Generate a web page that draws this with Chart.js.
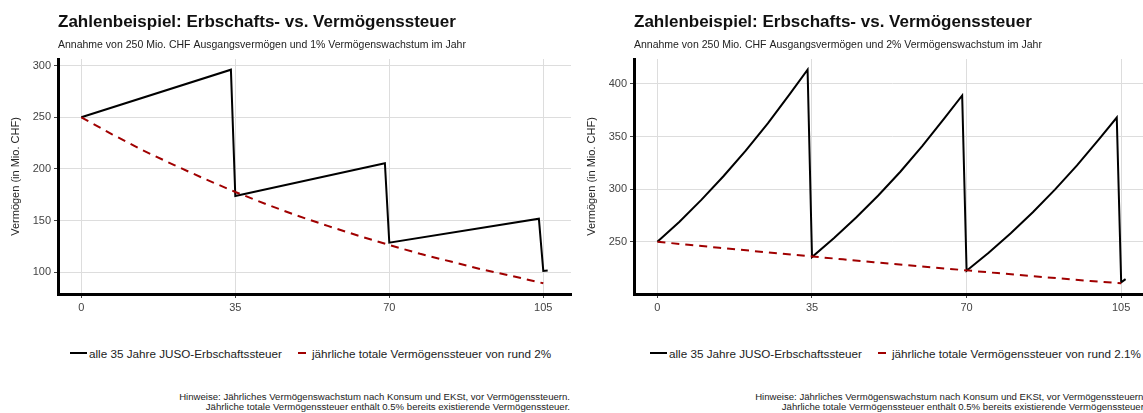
<!DOCTYPE html>
<html>
<head>
<meta charset="utf-8">
<script src="https://cdn.jsdelivr.net/npm/chart.js@4.4.1/dist/chart.umd.min.js"></script>
<style>
  body { margin: 0; width: 1143px; height: 413px; overflow: hidden; background: #fff;
         font-family: "Liberation Sans", Arial, sans-serif; }
  .panel { position: absolute; top: 0; width: 576px; height: 413px; }
  .legend { position: absolute; top: 346px; display: flex; align-items: center;
            font-size: 11.7px; color: #222; white-space: nowrap; }
  .key { position: relative; width: 17px; height: 14px; display: inline-block; }
  .key i { position: absolute; top: 6px; height: 2px; }
  .legend span.txt { margin-left: 2px; }
  .legend .gap { width: 11px; display: inline-block; }
  .note { position: absolute; right: 6px; top: 392px; font-size: 9.6px; line-height: 10px;
          color: #222; text-align: right; white-space: nowrap; }
</style>
</head>
<body>

<div class="panel" style="left:0">
  <canvas id="leftChart" width="576" height="320"></canvas>
  <div class="legend" id="leftLegend" style="left:70px"></div>
  <div class="note">Hinweise: Jährliches Vermögenswachstum nach Konsum und EKSt, vor Vermögenssteuern.<br>Jährliche totale Vermögenssteuer enthält 0.5% bereits existierende Vermögenssteuer.</div>
</div>

<div class="panel" style="left:576px">
  <canvas id="rightChart" width="576" height="320"></canvas>
  <div class="legend" id="rightLegend" style="left:74px"></div>
  <div class="note">Hinweise: Jährliches Vermögenswachstum nach Konsum und EKSt, vor Vermögenssteuern.<br>Jährliche totale Vermögenssteuer enthält 0.5% bereits existierende Vermögenssteuer.</div>
</div>

<script>
const xTicks = [0, 35, 70, 105];
const taxYears = [0, 7, 14, 21, 28, 35, 42, 49, 56, 63, 70, 77, 84, 91, 98, 105];

// 1% Wachstum
const leftYTicks = [100, 150, 200, 250, 300];
const leftJusoYears = [0, 34, 35, 69, 70, 104, 105, 106];
const leftJuso = [250, 296, 174, 205.5, 128.8, 152, 101.5, 102];
const leftTax = [250, 233.5, 218, 204, 190.5, 177.8, 166, 155, 145, 135.5, 126.5, 118, 110.5, 103, 96.5, 89.5];

// 2% Wachstum
const rightYTicks = [250, 300, 350, 400];
const rightJusoYears = [0, 5, 10, 15, 20, 25, 30, 34, 35, 40, 45, 50, 55, 60, 65, 69,
                        70, 75, 80, 85, 90, 95, 100, 104, 105, 106];
const rightJuso = [250, 269, 290, 312.5, 336.5, 362.5, 390.5, 413.5, 235.5, 253.5, 273, 294, 316.5, 341, 367.5, 389,
                   222.5, 239.5, 258, 278, 299.5, 322.5, 347.5, 368, 211.5, 214.5];
const rightTax = [250, 247.1, 244.3, 241.5, 238.7, 236, 233.3, 230.6, 228, 225.4, 222.8, 220.2, 217.7, 215.2, 212.7, 210.5];

const jusoLabel = "alle 35 Jahre JUSO-Erbschaftssteuer";
const title = "Zahlenbeispiel: Erbschafts- vs. Vermögenssteuer";

const FONT = "'Liberation Sans', Arial, sans-serif";
const RED = "#a00000";

function pts(xs, ys) {
  return xs.map((x, i) => ({ x: x, y: ys[i] }));
}

// ggplot-style 5% expansion of the data range
function expand(values) {
  const lo = Math.min(...values), hi = Math.max(...values), pad = (hi - lo) * 0.05;
  return [lo - pad, hi + pad];
}

function legend(id, taxLabel) {
  document.getElementById(id).innerHTML =
    '<span class="key"><i style="left:0;width:17px;background:#000"></i></span>' +
    '<span class="txt">' + jusoLabel + '</span><span class="gap"></span>' +
    '<span class="key"><i style="left:5px;width:8px;background:' + RED + '"></i></span>' +
    '<span class="txt">' + taxLabel + '</span>';
}

function drawPanel(id, p) {
  const [yMin, yMax] = expand(p.juso.concat(p.tax));
  const [xMin, xMax] = expand(p.jusoYears.concat(taxYears));
  new Chart(document.getElementById(id), {
    type: "line",
    data: {
      datasets: [
        { label: jusoLabel, data: pts(p.jusoYears, p.juso), borderColor: "#000", borderWidth: 2,
          pointRadius: 0, tension: 0, order: 1 },
        { label: p.taxLabel, data: pts(taxYears, p.tax), borderColor: RED, borderWidth: 2,
          borderDash: [8, 6], pointRadius: 0, tension: 0, order: 0 },
      ],
    },
    options: {
      responsive: false,
      animation: false,
      devicePixelRatio: 1,
      layout: { padding: { left: 0, right: p.padRight, top: 0, bottom: 4 } },
      plugins: {
        legend: { display: false },
        tooltip: { enabled: false },
        title: {
          display: true, text: title, align: "start", fullSize: false, color: "#111",
          font: { family: FONT, size: 17, weight: "bold" }, padding: { top: 12, bottom: 3 },
        },
        subtitle: {
          display: true, text: p.subtitle, align: "start", fullSize: false, color: "#222",
          font: { family: FONT, size: 10.5 }, padding: { top: 3, bottom: 8 },
        },
      },
      scales: {
        x: {
          type: "linear", min: xMin, max: xMax,
          afterBuildTicks: (s) => { s.ticks = xTicks.map((v) => ({ value: v })); },
          afterFit: (s) => { s.height = 22; },
          ticks: { color: "#444", font: { family: FONT, size: 11 }, padding: 3, maxRotation: 0 },
          grid: { color: "#dddddd", lineWidth: 1, tickLength: 4, tickColor: "#444" },
          border: { color: "#000", width: 3 },
        },
        y: {
          type: "linear", min: yMin, max: yMax,
          afterBuildTicks: (s) => { s.ticks = p.yTicks.map((v) => ({ value: v })); },
          afterFit: (s) => { s.width = 58; },
          ticks: { color: "#444", font: { family: FONT, size: 11 }, padding: 3 },
          grid: { color: "#dddddd", lineWidth: 1, tickLength: 4, tickColor: "#444" },
          border: { color: "#000", width: 3 },
          title: { display: true, text: "Vermögen (in Mio. CHF)", color: "#222",
                   font: { family: FONT, size: 11 }, padding: { top: 9, bottom: 0 } },
        },
      },
    },
  });
}

drawPanel("leftChart", {
  jusoYears: leftJusoYears, juso: leftJuso, tax: leftTax, yTicks: leftYTicks, padRight: 5,
  subtitle: "Annahme von 250 Mio. CHF Ausgangsvermögen und 1% Vermögenswachstum im Jahr",
  taxLabel: "jährliche totale Vermögenssteuer von rund 2%",
});
drawPanel("rightChart", {
  jusoYears: rightJusoYears, juso: rightJuso, tax: rightTax, yTicks: rightYTicks, padRight: 3,
  subtitle: "Annahme von 250 Mio. CHF Ausgangsvermögen und 2% Vermögenswachstum im Jahr",
  taxLabel: "jährliche totale Vermögenssteuer von rund 2.1%",
});
legend("leftLegend", "jährliche totale Vermögenssteuer von rund 2%");
legend("rightLegend", "jährliche totale Vermögenssteuer von rund 2.1%");
</script>
</body>
</html>
